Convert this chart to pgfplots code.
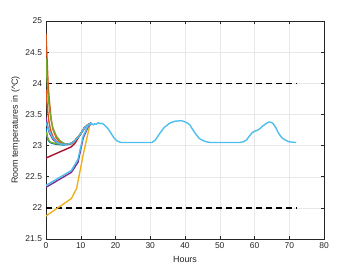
\documentclass[border=0pt]{standalone}
\usepackage{pgfplots}
\pgfplotsset{compat=1.18}
\usepackage{fontspec}
\setmainfont{Liberation Sans}
\definecolor{mblue}{rgb}{0,0.447,0.741}
\definecolor{morange}{rgb}{0.85,0.325,0.098}
\definecolor{myellow}{rgb}{0.929,0.694,0.125}
\definecolor{mpurple}{rgb}{0.494,0.184,0.556}
\definecolor{mgreen}{rgb}{0.466,0.674,0.188}
\definecolor{mcyan}{rgb}{0.301,0.745,0.933}
\definecolor{mred}{rgb}{0.635,0.078,0.184}
\definecolor{axgray}{rgb}{0.15,0.15,0.15}
\begin{document}
\begin{tikzpicture}
\useasboundingbox (0,0) rectangle (358bp,269bp);
\begin{axis}[
  at={(46bp,30bp)}, anchor=south west,
  scale only axis, width=278bp, height=218bp,
  xmin=0, xmax=80, ymin=21.5, ymax=25,
  xtick={0,10,...,80}, ytick={21.5,22,...,25},
  yticklabels={21.5,22,22.5,23,23.5,24,24.5,25},
  xticklabels={0,10,20,30,40,50,60,70,80},
  tick align=inside, tick pos=both,
  major tick length=3bp,
  grid=major, major grid style={gray!18, line width=0.4pt},
  axis line style={axgray, line width=0.5pt},
  every tick/.style={axgray, line width=0.5pt},
  tick label style={font=\fontsize{8.5}{10}\selectfont, text=axgray},
  yticklabel style={xshift=-0.5bp},
  xlabel={Hours}, ylabel={Room temperatures in (\^{}C)},
  label style={font=\fontsize{9}{10.5}\selectfont, text=axgray},
  xlabel style={yshift=-1bp},
  ylabel style={yshift=-1bp},
  every axis plot/.append style={line width=1.4pt, line join=round},
]
\addplot[black, dash pattern=on 6bp off 4bp, line width=1.3pt] coordinates {(0,24) (72,24)};
\addplot[black, dash pattern=on 6bp off 4bp, line width=1.3pt] coordinates {(0,22) (72,22)};
% blue
\addplot[mblue] coordinates {(0,23.28) (0.3,23.16) (0.6,23.09) (1,23.06) (1.5,23.04) (3,23.02) (5,23.01) (7,23.02) (8,23.06) (9,23.12) (10,23.19) (11,23.28) (12,23.33) (13,23.36)};
% orange
\addplot[morange] coordinates {(0,24.8) (0.3,24.4) (0.6,24.0) (1,23.7) (1.5,23.42) (2,23.26) (3,23.12) (4,23.06) (5,23.03) (6,23.02) (7,23.03) (8,23.06) (9,23.12) (10,23.19) (11,23.28) (12,23.33) (13,23.36)};
% yellow
\addplot[myellow] coordinates {(0,21.87) (7.3,22.15) (8.8,22.31) (10.7,22.85) (12.6,23.33) (13.1,23.36)};
% purple lower
\addplot[mpurple] coordinates {(0,22.33) (7.3,22.57) (9.2,22.73) (10.7,23.12) (12.1,23.30) (13,23.35)};
% green
\addplot[mgreen] coordinates {(0,24.4) (0.3,24.05) (0.6,23.8) (1,23.58) (1.5,23.4) (2,23.28) (3,23.15) (4,23.08) (5,23.04) (6,23.02) (7,23.03) (8,23.06) (9,23.12) (10,23.19) (11,23.28) (12,23.33) (13,23.36)};
% dark red
\addplot[mred] coordinates {(0,22.80) (7.3,22.98) (8.5,23.05) (9,23.1) (10,23.19) (11,23.28) (12,23.33) (13,23.36)};
% second set
\addplot[mpurple] coordinates {(0,23.45) (0.5,23.3) (1,23.2) (2,23.1) (3,23.05) (4,23.03) (5,23.02) (7,23.03) (8,23.06) (9,23.12) (10,23.19) (11,23.28) (12,23.33) (13,23.36)};
\addplot[mgreen] coordinates {(0,23.22) (0.5,23.12) (1,23.07) (1.5,23.05) (3,23.03) (5,23.02) (7,23.03) (8,23.06) (9,23.12) (10,23.19) (11,23.28) (12,23.33) (13,23.36)};
\addplot[morange] coordinates {(0,23.9) (0.4,23.6) (0.8,23.4) (1.3,23.25) (2,23.14) (3,23.07) (4,23.04) (5,23.02) (7,23.03) (8,23.06) (9,23.12) (10,23.19) (11,23.28) (12,23.33) (13,23.36)};
\addplot[mcyan] coordinates {(0,23.37) (0.5,23.3) (1,23.22) (2,23.12) (3,23.06) (4,23.03) (5,23.02) (7,23.03) (8,23.06) (9,23.12) (10,23.19) (11,23.28) (12,23.33) (13,23.36)};
% cyan main
\addplot[mcyan] coordinates {(0,22.36) (7.3,22.60) (9.2,22.78) (10.7,23.15) (12,23.31) (13,23.36)
 (13.6,23.33) (14,23.35) (14.5,23.34) (15,23.37) (15.5,23.35) (16,23.36) (16.6,23.34) (17.2,23.31) (18,23.26) (18.8,23.19) (19.5,23.13) (20.3,23.08) (21,23.06) (21.7,23.05) (25,23.05) (30.5,23.05)
 (31.5,23.09) (32.2,23.15) (32.8,23.2) (34,23.29) (35.6,23.36) (37,23.39) (39,23.40) (40,23.38) (40.8,23.36) (41.4,23.33) (42.3,23.25) (43.3,23.17) (44.2,23.11) (45.2,23.08) (46.2,23.06) (47.2,23.05) (52,23.05) (55.8,23.05)
 (56.8,23.06) (57.7,23.09) (58.5,23.15) (59.2,23.2) (60,23.23) (60.6,23.24) (61.3,23.26) (62.1,23.30) (63.2,23.35) (64.2,23.38) (64.9,23.37) (65.4,23.35) (66.2,23.28) (66.9,23.2) (67.8,23.13) (68.8,23.09) (70,23.06) (71.7,23.05) (72,23.05)};
\end{axis}
\end{tikzpicture}
\end{document}
